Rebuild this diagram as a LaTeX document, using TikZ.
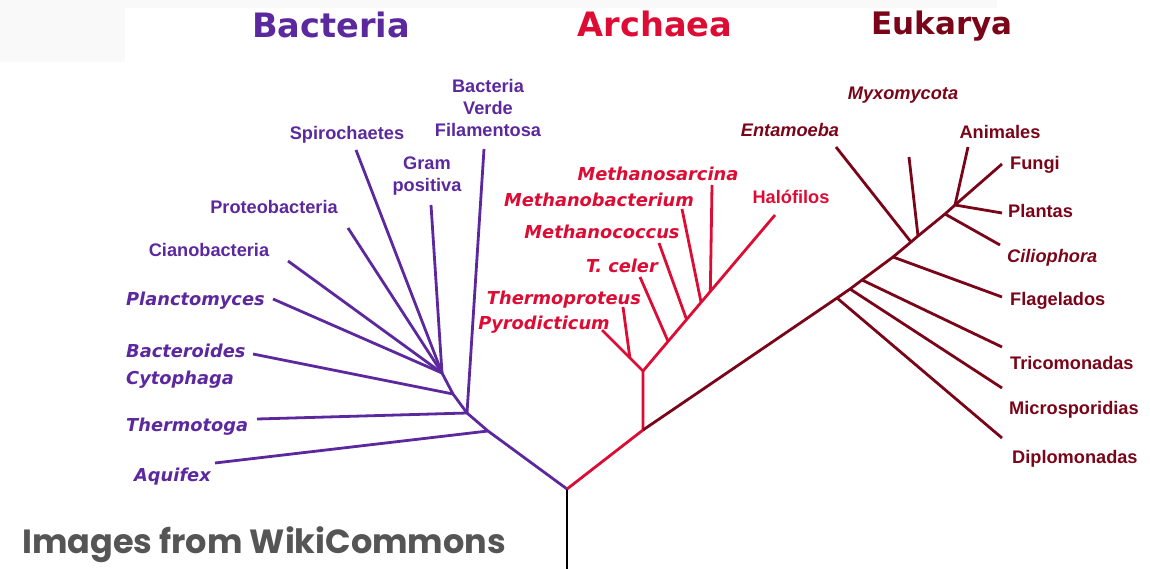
\documentclass[tikz,border=0pt]{standalone}
\usepackage{fontspec}
\newfontfamily\arialfont{Liberation Sans}
\newfontfamily\dejafont{DejaVu Sans}
\newfontfamily\popfont{Poppins}
\usetikzlibrary{positioning,calc}
\definecolor{bactcolor}{RGB}{92,40,158}
\definecolor{archcolor}{RGB}{220,12,52}
\definecolor{eukcolor}{RGB}{122,4,24}
\definecolor{notecolor}{RGB}{85,85,85}
\definecolor{paperband}{RGB}{249,249,249}
\tikzset{
  branch/.style={line width=2.8pt},
  domtitle/.style={font=\dejafont\bfseries\fontsize{33.6}{36}\selectfont, anchor=base, inner sep=0pt},
  plainlbl/.style={font=\arialfont\bfseries\fontsize{18.2}{22}\selectfont, inner sep=0pt},
  obllbl/.style={font=\dejafont\bfseries\itshape\fontsize{17.8}{22}\selectfont, inner sep=0pt},
  itlbl/.style={font=\arialfont\bfseries\itshape\fontsize{18.2}{22}\selectfont, inner sep=0pt},
  oneline/.style={text height=13pt, text depth=0pt},
}

\begin{document}
\begin{tikzpicture}[x=1pt, y=-1pt]
    \useasboundingbox (0,0) rectangle (1150,569);
    % --- faint paper bands ---
    \fill[paperband] (0,0) rectangle (997,8);
    \fill[paperband] (0,0) rectangle (125,62);
    % --- domain titles ---
    \node[domtitle, bactcolor] (bacteria) at (331,38) {Bacteria};
    \node[domtitle, archcolor] (archaea) at (655,37) {Archaea};
    \node[domtitle, eukcolor, font=\dejafont\bfseries\fontsize{31}{34}\selectfont] (eukarya) at (942,35) {Eukarya};
    % --- root stem ---
    \coordinate (root) at (567,489);
    \coordinate (base) at (567,569);
    \draw[branch, black] (base) -- (root);

    % --- Bacteria ---
    \coordinate (b1) at (488,431);
    \coordinate (b2) at (467,413);
    \coordinate (b3) at (453,394);
    \coordinate (b4) at (442,373);
    \draw[branch, bactcolor] (root) -- (b1) -- (b2) -- (b3) -- (b4);
    \node[obllbl, oneline, bactcolor, anchor=west] (aquifex) at (134,475) {Aquifex};
    \node[obllbl, oneline, bactcolor, anchor=west] (thermotoga) at (126,425) {Thermotoga};
    \node[obllbl, bactcolor, anchor=west, align=left, font=\dejafont\bfseries\itshape\fontsize{17.8}{27}\selectfont]
      (bacteroides) at (126,366) {Bacteroides\\Cytophaga};
    \node[obllbl, oneline, bactcolor, anchor=west] (planctomyces) at (126,299) {Planctomyces};
    \node[plainlbl, oneline, bactcolor] (cianobacteria) at (209,250) {Cianobacteria};
    \node[plainlbl, oneline, bactcolor] (proteobacteria) at (274,207) {Proteobacteria};
    \node[plainlbl, oneline, bactcolor] (spirochaetes) at (347,133) {Spirochaetes};
    \node[plainlbl, bactcolor, align=center] (grampos) at (427,176) {Gram\\positiva};
    \node[plainlbl, bactcolor, align=center] (verde) at (488,108) {Bacteria\\Verde\\Filamentosa};
    \coordinate (aquifex-tip) at (215,463);
    \coordinate (thermotoga-tip) at (257,419);
    \coordinate (bacteroides-tip) at (253,354);
    \coordinate (planctomyces-tip) at (273,299);
    \coordinate (cianobacteria-tip) at (288,261);
    \coordinate (proteobacteria-tip) at (348,228);
    \coordinate (spirochaetes-tip) at (356,150);
    \coordinate (grampos-tip) at (431,205);
    \coordinate (verde-tip) at (484,149);
    \draw[branch, bactcolor] (b1) -- (aquifex-tip);
    \draw[branch, bactcolor] (b2) -- (thermotoga-tip);
    \draw[branch, bactcolor] (b2) -- (verde-tip);
    \draw[branch, bactcolor] (b3) -- (bacteroides-tip);
    \foreach \tip in {planctomyces,cianobacteria,proteobacteria,spirochaetes,grampos}
      \draw[branch, bactcolor] (b4) -- (\tip-tip);

    % --- Archaea ---
    \coordinate (a1) at (643,430);
    \coordinate (a2) at (643,371);
    \coordinate (pyro-tip) at (602,330);
    \coordinate (halo-tip) at (775,215);
    \draw[branch, archcolor] (root) -- (a1) -- (a2);
    \draw[branch, archcolor] (a2) -- (pyro-tip);
    \draw[branch, archcolor] (a2) -- (halo-tip);
    \node[obllbl, oneline, archcolor] (pyro) at (544,323) {Pyrodicticum};
    \node[obllbl, oneline, archcolor] (thermoproteus) at (564,298) {Thermoproteus};
    \node[obllbl, oneline, archcolor] (tceler) at (622,266) {T. celer};
    \node[obllbl, oneline, archcolor] (methanococcus) at (602,232) {Methanococcus};
    \node[obllbl, oneline, archcolor] (methanobact) at (599,200) {Methanobacterium};
    \node[obllbl, oneline, archcolor] (methanosarc) at (658,174) {Methanosarcina};
    \node[plainlbl, oneline, archcolor] (halo) at (791,197) {Halófilos};
    \coordinate (thermoproteus-tip) at (623,307);
    \coordinate (tceler-tip) at (640,277);
    \coordinate (methanococcus-tip) at (659,243);
    \coordinate (methanobact-tip) at (682,209);
    \coordinate (methanosarc-tip) at (712,185);
    \draw[branch, archcolor] ($(a2)!0.32!(pyro-tip)$) -- (thermoproteus-tip);
    \draw[branch, archcolor] ($(a2)!0.19!(halo-tip)$) -- (tceler-tip);
    \draw[branch, archcolor] ($(a2)!0.33!(halo-tip)$) -- (methanococcus-tip);
    \draw[branch, archcolor] ($(a2)!0.44!(halo-tip)$) -- (methanobact-tip);
    \draw[branch, archcolor] ($(a2)!0.51!(halo-tip)$) -- (methanosarc-tip);

    % --- Eukarya ---
    \coordinate (e1) at (837,298);
    \coordinate (e2) at (850,289);
    \coordinate (e3) at (862,280);
    \coordinate (e4) at (893,257);
    \coordinate (e5) at (911,242);
    \coordinate (e6) at (918,236);
    \coordinate (e7) at (945,214);
    \coordinate (etop) at (955,205);
    \draw[branch, eukcolor] (a1) -- (e1) -- (e2) -- (e3) -- (e4) -- (e5) -- (e6) -- (e7) -- (etop);
    \node[itlbl, oneline, eukcolor] (myxo) at (903,93) {Myxomycota};
    \node[itlbl, oneline, eukcolor] (entamoeba) at (790,130) {Entamoeba};
    \node[plainlbl, oneline, eukcolor] (animales) at (1000,132) {Animales};
    \node[plainlbl, oneline, eukcolor, anchor=west] (fungi) at (1010,163) {Fungi};
    \node[plainlbl, oneline, eukcolor, anchor=west] (plantas) at (1008,211) {Plantas};
    \node[itlbl, oneline, eukcolor, anchor=west] (ciliophora) at (1007,256) {Ciliophora};
    \node[plainlbl, oneline, eukcolor, anchor=west] (flagelados) at (1010,299) {Flagelados};
    \node[plainlbl, oneline, eukcolor, anchor=west] (tricomonadas) at (1010,363) {Tricomonadas};
    \node[plainlbl, oneline, eukcolor, anchor=west] (microspor) at (1009,408) {Microsporidias};
    \node[plainlbl, oneline, eukcolor, anchor=west] (diplomonadas) at (1012,457) {Diplomonadas};
    \coordinate (diplomonadas-tip) at (1002,438);
    \coordinate (microspor-tip) at (1002,388);
    \coordinate (tricomonadas-tip) at (1002,347);
    \coordinate (flagelados-tip) at (1002,297);
    \coordinate (entamoeba-tip) at (836,147);
    \coordinate (myxo-tip) at (909,157);
    \coordinate (ciliophora-tip) at (1000,245);
    \coordinate (animales-tip) at (968,147);
    \coordinate (fungi-tip) at (1002,164);
    \coordinate (plantas-tip) at (1002,213);
    \draw[branch, eukcolor] (e1) -- (diplomonadas-tip);
    \draw[branch, eukcolor] (e2) -- (microspor-tip);
    \draw[branch, eukcolor] (e3) -- (tricomonadas-tip);
    \draw[branch, eukcolor] (e4) -- (flagelados-tip);
    \draw[branch, eukcolor] (e5) -- (entamoeba-tip);
    \draw[branch, eukcolor] (e6) -- (myxo-tip);
    \draw[branch, eukcolor] (e7) -- (ciliophora-tip);
    \foreach \tip in {animales,fungi,plantas}
      \draw[branch, eukcolor] (etop) -- (\tip-tip);

    % --- source note ---
    \node[font=\popfont\bfseries\fontsize{33.5}{36}\selectfont, text=notecolor, anchor=base west, inner sep=0pt]
      (source) at (22,553) {Images from WikiCommons};
\end{tikzpicture}
\end{document}
